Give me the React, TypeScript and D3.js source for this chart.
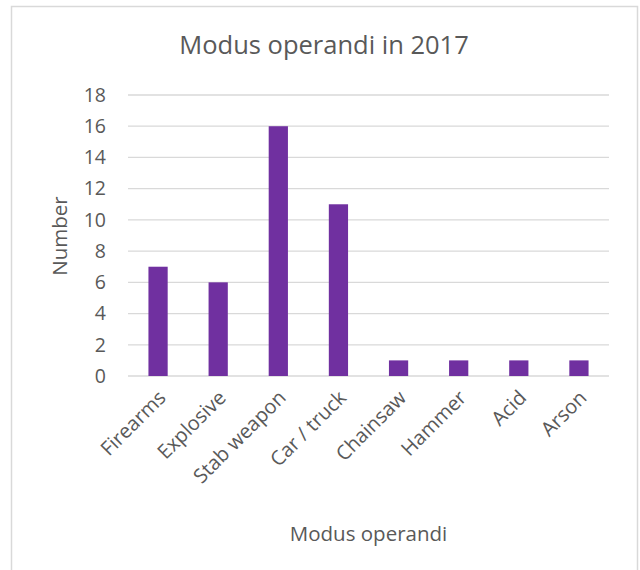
import React, { useEffect, useRef } from "react";
import * as d3 from "d3";

const categories = ["Firearms", "Explosive", "Stab weapon", "Car / truck", "Chainsaw", "Hammer", "Acid", "Arson"];
const counts = [7, 6, 16, 11, 1, 1, 1, 1];
const yTicks = [0, 2, 4, 6, 8, 10, 12, 14, 16, 18];

const FONT = "'Open Sans', sans-serif";
const TEXT = "#595959";

function App() {
  const svgRef = useRef<SVGSVGElement>(null);

  useEffect(() => {
    const width = 640;
    const height = 570;
    const margin = { top: 95, right: 31, bottom: 194, left: 128 };

    const svg = d3.select(svgRef.current);
    svg.selectAll("*").remove();
    svg.attr("width", width).attr("height", height);

    svg.append("rect")
      .attr("x", 0).attr("y", 0)
      .attr("width", width).attr("height", height)
      .attr("fill", "#fff");

    // chart frame
    svg.append("rect")
      .attr("x", 11.5).attr("y", 6.5)
      .attr("width", 626).attr("height", 580)
      .attr("fill", "none")
      .attr("stroke", "#d9d9d9")
      .attr("stroke-width", 1.5);

    const x = d3.scaleBand()
      .domain(categories)
      .range([margin.left, width - margin.right])
      .paddingInner(0.68)
      .paddingOuter(0.34);

    const y = d3.scaleLinear()
      .domain([0, 18])
      .range([376, margin.top]);

    const g = svg.append("g");

    // gridlines
    g.selectAll(".grid")
      .data(yTicks)
      .enter().append("line")
      .attr("x1", margin.left)
      .attr("x2", width - margin.right)
      .attr("y1", d => y(d))
      .attr("y2", d => y(d))
      .attr("stroke", "#d9d9d9")
      .attr("stroke-width", 1.3);

    // y tick labels
    g.selectAll(".ytick")
      .data(yTicks)
      .enter().append("text")
      .attr("x", 106)
      .attr("y", d => y(d))
      .attr("dy", "0.35em")
      .attr("text-anchor", "end")
      .attr("font-family", FONT)
      .attr("font-size", 19.5)
      .attr("fill", TEXT)
      .text(d => d);

    // bars
    g.selectAll(".bar")
      .data(counts)
      .enter().append("rect")
      .attr("x", (d, i) => x(categories[i]) as number)
      .attr("y", d => y(d))
      .attr("width", x.bandwidth())
      .attr("height", d => y(0) - y(d))
      .attr("fill", "#7030a0");

    // x tick labels
    g.selectAll(".xtick")
      .data(categories)
      .enter().append("text")
      .attr("transform", d => `translate(${(x(d) as number) + x.bandwidth() / 2 + 4},${y(0) + 18}) rotate(-45)`)
      .attr("text-anchor", "end")
      .attr("dy", "0.35em")
      .attr("font-family", FONT)
      .attr("font-size", 20)
      .attr("fill", TEXT)
      .text(d => d);

    // titles
    svg.append("text")
      .attr("x", 324)
      .attr("y", 45)
      .attr("dy", "0.35em")
      .attr("text-anchor", "middle")
      .attr("font-family", FONT)
      .attr("font-size", 25.5)
      .attr("fill", TEXT)
      .text("Modus operandi in 2017");

    svg.append("text")
      .attr("x", (margin.left + width - margin.right) / 2)
      .attr("y", 534)
      .attr("dy", "0.35em")
      .attr("text-anchor", "middle")
      .attr("font-family", FONT)
      .attr("font-size", 20.5)
      .attr("fill", TEXT)
      .text("Modus operandi");

    svg.append("text")
      .attr("transform", "translate(60,236) rotate(-90)")
      .attr("dy", "0.35em")
      .attr("text-anchor", "middle")
      .attr("font-family", FONT)
      .attr("font-size", 20.5)
      .attr("fill", TEXT)
      .text("Number");
  }, []);

  return <svg ref={svgRef} style={{ position: "absolute", left: 0, top: 0 }} />;
}

export default App;
